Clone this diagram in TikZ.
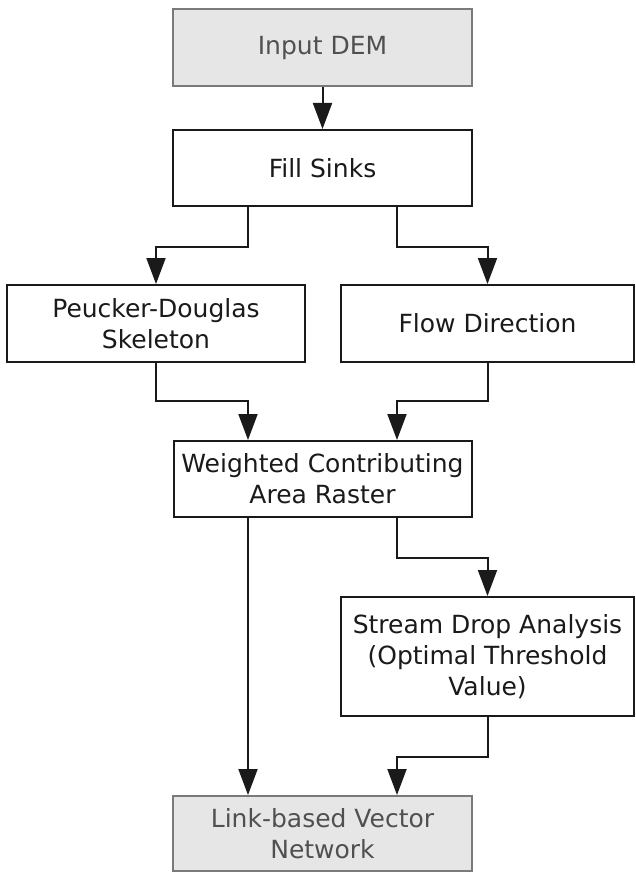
\documentclass[tikz,border=0pt]{standalone}
\usepackage{fontspec}
\setmainfont{DejaVu Sans}
\usetikzlibrary{arrows.meta}
\definecolor{gfill}{HTML}{E6E6E6}
\definecolor{gborder}{HTML}{7A7A7A}
\definecolor{gtext}{HTML}{505050}
\definecolor{dk}{HTML}{1A1A1A}
\begin{document}
\begin{tikzpicture}[x=1pt,y=-1pt,
  box/.style={draw=dk, line width=2pt, fill=white, text=dk, align=center, inner sep=0pt,
    font=\fontsize{25}{31}\selectfont},
  term/.style={box, draw=gborder, fill=gfill, text=gtext},
  arr/.style={line width=2pt, draw=dk, -{Triangle[length=26pt,width=19pt]}}]
\useasboundingbox (0,0) rectangle (635,872);
\node[term, minimum width=299pt, minimum height=77pt] (in) at (322.5,47.5) {Input DEM};
\node[box, minimum width=299pt, minimum height=76pt] (fill) at (322.5,168) {Fill Sinks};
\node[box, minimum width=298pt, minimum height=77pt] (pd) at (156,323.5) {Peucker-Douglas\\Skeleton};
\node[box, minimum width=293pt, minimum height=77pt] (fd) at (487.5,323.5) {Flow Direction};
\node[box, minimum width=298pt, minimum height=76pt] (wca) at (322.5,479) {Weighted Contributing\\Area Raster};
\node[box, minimum width=293pt, minimum height=119pt] (sda) at (487.5,656.5) {Stream Drop Analysis\\(Optimal Threshold\\Value)};
\node[term, minimum width=299pt, minimum height=75pt] (lvn) at (322.5,833.5) {Link-based Vector\\Network};
\draw[arr] (in.south) -- (fill.north);
\draw[arr] ([xshift=-74.5pt]fill.south) -- ++(0,40) -| (pd.north);
\draw[arr] ([xshift=74.5pt]fill.south) -- ++(0,40) -| (fd.north);
\draw[arr] (pd.south) -- ++(0,38) -| ([xshift=-74.5pt]wca.north);
\draw[arr] (fd.south) -- ++(0,38) -| ([xshift=74.5pt]wca.north);
\draw[arr] ([xshift=74.5pt]wca.south) -- ++(0,40) -| (sda.north);
\draw[arr] ([xshift=-74.5pt]wca.south) -- ([xshift=-74.5pt]lvn.north);
\draw[arr] (sda.south) -- ++(0,40) -| ([xshift=74.5pt]lvn.north);
\end{tikzpicture}
\end{document}
